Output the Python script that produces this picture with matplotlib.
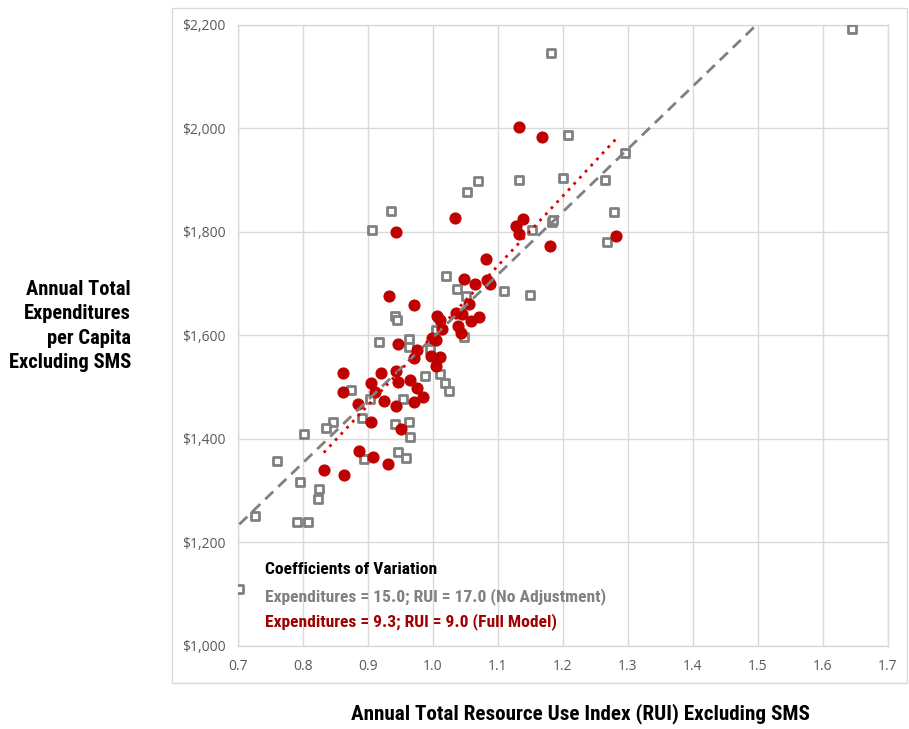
import numpy as np
import matplotlib
matplotlib.use("Agg")
import matplotlib.pyplot as plt
from matplotlib import font_manager as fm
from matplotlib.patches import Rectangle

# ---------------- data ----------------
gray_x = [1.645, 1.181, 1.207, 1.296, 1.200, 1.133, 1.264, 1.069, 1.053, 0.936,
          0.906, 1.279, 1.268, 1.183, 1.185, 1.153, 1.109, 1.149, 1.020, 1.037,
          1.051, 0.941, 0.944, 0.917, 0.963, 0.963, 1.004, 1.047, 0.995, 0.988,
          1.010, 1.019, 1.024, 0.954, 0.903, 0.890, 0.874, 0.941, 0.963, 0.965,
          0.846, 0.835, 0.802, 0.760, 0.894, 0.946, 0.959, 0.796, 0.825, 0.823,
          0.726, 0.790, 0.807, 0.702]
gray_y = [2193, 2146, 1987, 1952, 1904, 1900, 1900, 1898, 1877, 1841,
          1803, 1838, 1781, 1819, 1824, 1804, 1686, 1679, 1715, 1690,
          1677, 1638, 1630, 1587, 1594, 1577, 1610, 1598, 1573, 1521,
          1525, 1509, 1493, 1477, 1477, 1441, 1495, 1429, 1432, 1404,
          1432, 1422, 1410, 1357, 1362, 1374, 1363, 1316, 1303, 1285,
          1252, 1239, 1239, 1110]

red_x = [1.132, 1.167, 1.034, 1.139, 1.127, 1.133, 0.943, 1.282, 1.180, 1.082,
         1.047, 1.065, 1.083, 1.088, 0.933, 0.971, 1.055, 1.035, 1.044, 1.070,
         1.058, 1.006, 1.010, 1.014, 1.039, 1.043, 0.999, 1.004, 0.946, 0.975,
         0.971, 0.997, 1.011, 1.005, 0.862, 0.862, 0.920, 0.943, 0.946, 0.965,
         0.975, 0.984, 0.970, 0.905, 0.910, 0.925, 0.885, 0.943, 0.905, 0.950,
         0.886, 0.908, 0.931, 0.832, 0.863]
red_y = [2002, 1983, 1827, 1825, 1812, 1797, 1800, 1793, 1773, 1747,
         1710, 1699, 1708, 1699, 1677, 1659, 1660, 1644, 1641, 1636,
         1628, 1638, 1630, 1613, 1618, 1605, 1595, 1591, 1583, 1572,
         1556, 1560, 1558, 1542, 1527, 1490, 1527, 1531, 1511, 1514,
         1498, 1482, 1472, 1508, 1490, 1474, 1467, 1464, 1432, 1419,
         1377, 1365, 1351, 1341, 1330]

x_ticks = [0.7, 0.8, 0.9, 1.0, 1.1, 1.2, 1.3, 1.4, 1.5, 1.6, 1.7]
y_ticks = [1000, 1200, 1400, 1600, 1800, 2000, 2200]
y_tick_labels = ["$1,000", "$1,200", "$1,400", "$1,600", "$1,800", "$2,000", "$2,200"]

ylabel = "Annual Total\nExpenditures\nper Capita\nExcluding SMS"
xlabel = "Annual Total Resource Use Index (RUI) Excluding SMS"
note_title = "Coefficients of Variation"
note_gray = "Expenditures = 15.0; RUI = 17.0 (No Adjustment)"
note_red = "Expenditures = 9.3; RUI = 9.0 (Full Model)"

# ---------------- fonts ----------------
def find_condensed_bold():
    prefs = ["LiberationSansNarrow-Bold", "RobotoCondensed-Bold", "Roboto_Condensed-Bold",
             "DejaVuSansCondensed-Bold", "OpenSans_Condensed-Bold", "OpenSansCondensed-Bold",
             "NotoSans-CondensedBold", "NotoSansDisplay-CondensedBold"]
    files = [f.fname for f in fm.fontManager.ttflist]
    for p in prefs:
        for fn in files:
            if p.lower() in fn.lower().replace(" ", ""):
                return fm.FontProperties(fname=fn), True
    for fn in files:
        low = fn.lower()
        if ("condensed" in low or "narrow" in low) and "bold" in low and "italic" not in low \
                and "oblique" not in low and "semi" not in low and "extra" not in low:
            return fm.FontProperties(fname=fn), True
    return fm.FontProperties(family="DejaVu Sans", weight="bold"), False

cond_fp, is_cond = find_condensed_bold()
names = {f.name for f in fm.fontManager.ttflist}
tickfont = "Open Sans" if "Open Sans" in names else "DejaVu Sans"

def cfp(size):
    p = cond_fp.copy()
    p.set_size(size if is_cond else size * 0.8)
    return p

GRAY = "#808080"
RED = "#C00000"

W, H = 909, 729
fig = plt.figure(figsize=(W / 100, H / 100), dpi=100)
fig.patch.set_facecolor("white")

# outer chart frame
fig.patches.append(Rectangle((172 / W, 1 - 683 / H), (907 - 172) / W, (683 - 8) / H,
                             transform=fig.transFigure, fill=False,
                             edgecolor="#d9d9d9", linewidth=1.0))

ax = fig.add_axes([238 / W, 1 - 646 / H, 650 / W, 621 / H])
ax.set_xlim(0.7, 1.7)
ax.set_ylim(1000, 2200)
ax.set_xticks(x_ticks)
ax.set_xticklabels([f"{v:.1f}" for v in x_ticks])
ax.set_yticks(y_ticks)
ax.set_yticklabels(y_tick_labels)
ax.grid(True, color="#d9d9d9", linewidth=1.0)
ax.set_axisbelow(True)
for s in ax.spines.values():
    s.set_color("#d9d9d9")
    s.set_linewidth(1.0)
ax.tick_params(length=0, colors="#595959", labelsize=10, pad=9)
for lab in ax.get_xticklabels() + ax.get_yticklabels():
    lab.set_fontfamily(tickfont)
    lab.set_color("#595959")

# trend lines (least squares over each series)
gx = np.array(gray_x); gy = np.array(gray_y)
rx = np.array(red_x); ry = np.array(red_y)
gs, gi = np.polyfit(gx, gy, 1)
rs, ri = np.polyfit(rx, ry, 1)
gxx = np.linspace(gx.min(), gx.max(), 200)
rxx = np.linspace(rx.min(), rx.max(), 200)

ax.scatter(gx, gy, marker="s", s=40, facecolor="white", edgecolor=GRAY,
           linewidth=2.0, zorder=3)
ax.scatter(rx, ry, marker="o", s=60, color=RED, edgecolor=RED, zorder=4)
ax.plot(gxx, gs * gxx + gi, color=GRAY, linestyle=(0, (4, 2.5)), linewidth=2.0, zorder=5)
ax.plot(rxx, rs * rxx + ri, color="#E00000", linestyle=(0, (1, 2)), linewidth=2.0, zorder=5)

# annotation
ax.text(265 / W, 1 - 570 / H, note_title, transform=fig.transFigure, fontproperties=cfp(12.6),
        color="black", va="center", ha="left")
ax.text(265 / W, 1 - 597 / H, note_gray, transform=fig.transFigure, fontproperties=cfp(12.6),
        color=GRAY, va="center", ha="left")
ax.text(265 / W, 1 - 622 / H, note_red, transform=fig.transFigure, fontproperties=cfp(12.6),
        color="#A00000", va="center", ha="left")

# axis titles
fig.text(131 / W, 1 - 326 / H, ylabel, fontproperties=cfp(14.8),
         ha="right", va="center", linespacing=1.35)
fig.text(580 / W, 1 - 714 / H, xlabel, fontproperties=cfp(15.2),
         ha="center", va="center")

fig.savefig("out.png", dpi=100, facecolor="white")
